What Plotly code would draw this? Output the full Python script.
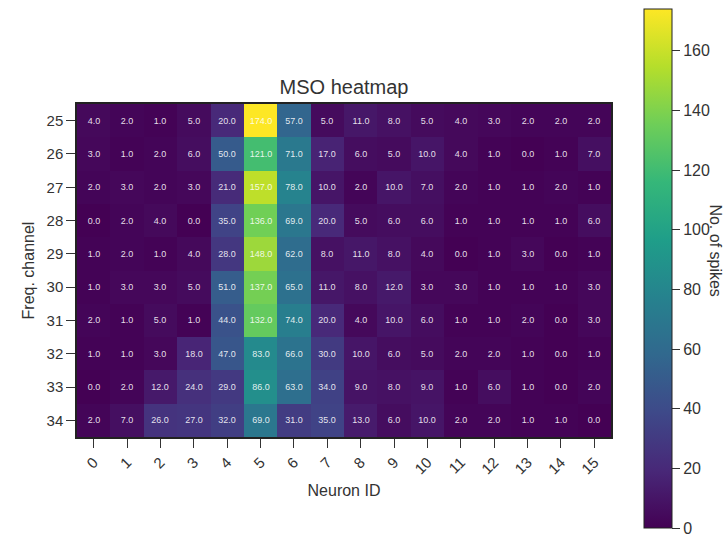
import plotly.graph_objects as go

# Spike counts per frequency channel (rows) and neuron (columns)
neuron_ids = [str(i) for i in range(16)]
channels = ["25", "26", "27", "28", "29", "30", "31", "32", "33", "34"]

ch25 = [4, 2, 1, 5, 20, 174, 57, 5, 11, 8, 5, 4, 3, 2, 2, 2]
ch26 = [3, 1, 2, 6, 50, 121, 71, 17, 6, 5, 10, 4, 1, 0, 1, 7]
ch27 = [2, 3, 2, 3, 21, 157, 78, 10, 2, 10, 7, 2, 1, 1, 2, 1]
ch28 = [0, 2, 4, 0, 35, 136, 69, 20, 5, 6, 6, 1, 1, 1, 1, 6]
ch29 = [1, 2, 1, 4, 28, 148, 62, 8, 11, 8, 4, 0, 1, 3, 0, 1]
ch30 = [1, 3, 3, 5, 51, 137, 65, 11, 8, 12, 3, 3, 1, 1, 1, 3]
ch31 = [2, 1, 5, 1, 44, 132, 74, 20, 4, 10, 6, 1, 1, 2, 0, 3]
ch32 = [1, 1, 3, 18, 47, 83, 66, 30, 10, 6, 5, 2, 2, 1, 0, 1]
ch33 = [0, 2, 12, 24, 29, 86, 63, 34, 9, 8, 9, 1, 6, 1, 0, 2]
ch34 = [2, 7, 26, 27, 32, 69, 31, 35, 13, 6, 10, 2, 2, 1, 1, 0]

spikes = [ch25, ch26, ch27, ch28, ch29, ch30, ch31, ch32, ch33, ch34]

colorbar_ticks = [0, 20, 40, 60, 80, 100, 120, 140, 160]

FONT = "Liberation Sans, Arial, sans-serif"
INK = "#333"

fig = go.Figure(
    go.Heatmap(
        z=spikes,
        x=neuron_ids,
        y=channels,
        colorscale="Viridis",
        zmin=0,
        zmax=max(max(r) for r in spikes),
        texttemplate="%{z:.1f}",
        textfont=dict(size=9, color="rgba(255,255,255,0.88)", family=FONT),
        colorbar=dict(
            thickness=28,
            lenmode="pixels",
            len=519,
            x=1.062,
            xanchor="left",
            y=0.506,
            yanchor="middle",
            ypad=0,
            xpad=0,
            outlinecolor="#222",
            outlinewidth=1,
            tickvals=colorbar_ticks,
            ticks="outside",
            ticklen=8,
            tickcolor=INK,
            tickfont=dict(size=16, color=INK, family=FONT),
        ),
    )
)

# colour bar label, placed close to the tick labels
fig.add_annotation(
    text="No. of spikes",
    textangle=90,
    xref="paper",
    yref="paper",
    x=1.195,
    y=0.56,
    xanchor="center",
    yanchor="middle",
    showarrow=False,
    font=dict(size=16, color=INK, family=FONT),
)

fig.update_layout(
    width=725,
    height=540,
    margin=dict(l=77, r=114, t=104, b=103),
    paper_bgcolor="white",
    plot_bgcolor="white",
    font=dict(family=FONT, color=INK),
    title=dict(
        text="MSO heatmap",
        x=0.5,
        xref="paper",
        xanchor="center",
        y=1 - 87 / 540,
        yref="container",
        yanchor="middle",
        font=dict(size=20, color=INK, family=FONT),
    ),
    xaxis=dict(
        title=dict(text="Neuron ID", font=dict(size=16, color=INK), standoff=8),
        tickangle=-45,
        tickfont=dict(size=15, color=INK),
        ticks="outside",
        ticklen=9,
        tickwidth=1.3,
        tickcolor=INK,
        showline=True,
        linecolor="#222",
        linewidth=1.5,
        mirror=True,
        showgrid=False,
        zeroline=False,
    ),
    yaxis=dict(
        title=dict(text="Freq. channel", font=dict(size=16, color=INK), standoff=8),
        autorange="reversed",
        tickfont=dict(size=15, color=INK),
        ticks="outside",
        ticklen=9,
        tickwidth=1.3,
        tickcolor=INK,
        showline=True,
        linecolor="#222",
        linewidth=1.5,
        mirror=True,
        showgrid=False,
        zeroline=False,
    ),
)

fig.write_html("out.html")
